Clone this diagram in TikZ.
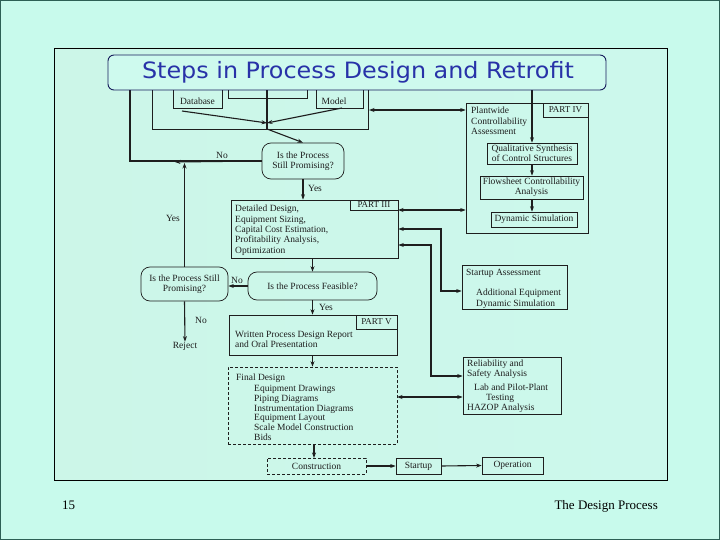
\documentclass[tikz,border=0pt]{standalone}
\usepackage{fontspec}
\setmainfont{Liberation Serif}
\newfontfamily\titlefont{DejaVu Sans}
\usetikzlibrary{arrows.meta,fit,calc}
\definecolor{bgc}{RGB}{200,250,236}
\definecolor{edgec}{RGB}{45,95,85}
\definecolor{scanl}{RGB}{204,246,232}
\definecolor{scanm}{RGB}{226,243,236}
\definecolor{scanr}{RGB}{204,248,236}
\definecolor{titleblue}{RGB}{40,50,168}
\definecolor{titlefill}{RGB}{206,250,238}
\definecolor{ink}{RGB}{30,30,30}
\begin{document}
\begin{tikzpicture}[x=1pt,y=-1pt,
  every node/.style={font=\fontsize{9.5}{10.4}\selectfont, text=ink, inner sep=0pt},
  box/.style={draw=ink, line width=0.7pt, inner sep=0pt},
  dbox/.style={box, dash pattern=on 3pt off 2pt},
  decis/.style={box, rounded corners=9pt},
  tagtext/.style={font=\fontsize{9}{10}\selectfont},
  ctr/.style={align=center},
  tx/.style={anchor=north west, align=left},
  ln/.style={draw=ink, line width=1.1pt},
  arr/.style={ln, -{Stealth[length=5.5pt,width=4pt]}},
  darr/.style={ln, {Stealth[length=5.5pt,width=4pt]}-{Stealth[length=5.5pt,width=4pt]}},
]
\useasboundingbox (0,0) rectangle (720,540);
\fill[bgc] (0,0) rectangle (720,540);
\draw[edgec, line width=1.2pt] (0.6,0.6) rectangle (719.4,539.4);
\shade[left color=scanl, middle color=scanm, right color=scanr] (54,48) rectangle (667,480);
\draw[black, line width=0.8pt] (54,48) rectangle (667,480);

% ---- top partial group
\node[box, fit={(152,70)(368,129)}] (grp) {};
\node[box, fit={(173,80)(222,108)}] (db) {};
\node (dbt) at (197.5,101) {Database};
\node[box, fit={(228,80)(307,98)}] (mid) {};
\node[box, fit={(316,80)(363,108)}] (mdl) {};
\node (mdlt) at (334,101) {Model};
\coordinate (j) at (267,123);
\coordinate (jb) at (267,129);
\coordinate (jt) at (267,70);
\coordinate (dbo) at (182,111);
\coordinate (mdo) at (342,108);
\draw[ln] (jt) -- (jb);
\draw[arr] (dbo) -- (j);
\draw[arr] (mdo) -- (j);

% ---- part IV
\node[box, fit={(466,103)(588,233)}] (p4) {};
\node[box, fit={(543,103)(588,117)}] (p4tag) {};
\node[tagtext] (p4tagt) at (p4tag.center) {PART IV};
\node[tx] (p4t) at (471,107) {Plantwide\\Controllability\\Assessment};
\node[box, fit={(487,143)(577,164)}] (qs) {};
\node[ctr] (qst) at (qs.center) {Qualitative Synthesis\\of Control Structures};
\node[box, fit={(480,176)(583,199)}] (fs) {};
\node[ctr] (fst) at (fs.center) {Flowsheet Controllability\\Analysis};
\node[box, fit={(491,212)(577,227)}] (ds) {};
\node (dst) at (ds.center) {Dynamic Simulation};
\coordinate (vt) at (532,70);
\draw[arr] (vt) -- (vt |- qs.north);
\draw[arr] (qs.south -| vt) -- (fs.north -| vt);
\draw[arr] (fs.south -| vt) -- (ds.north -| vt);
\coordinate (t1) at (369,110);
\draw[darr] (t1) -- (t1 -| p4.west);

% ---- decision 1
\node[decis, fit={(262,143)(344,179)}] (d1) {};
\node[ctr] (d1t) at (d1.center) {Is the Process\\Still Promising?};
\draw[arr] (jb) -- (d1.north);
\coordinate (lx) at (130,80);
\coordinate (na) at (175,162);
\draw[ln] (d1.west) -- (lx |- d1.west) -- (lx);
\draw[arr] (d1.west) -- (na);
\node (no1) at (222,155) {No};

% ---- detailed design
\node[box, fit={(231,200)(398,258)}] (dd) {};
\node[box, fit={(350,200)(398,210)}] (p3tag) {};
\node[tagtext] (p3tagt) at (p3tag.center) {PART III};
\node[tx] (ddt) at (235,205) {Detailed Design,\\Equipment Sizing,\\Capital Cost Estimation,\\Profitability Analysis,\\Optimization};
\draw[arr] (d1.south) -- (d1.south |- dd.north);
\node (yes1) at (315,188) {Yes};

% ---- feasible decision
\node[decis, fit={(248,272)(377,300)}] (fe) {};
\node (fet) at (fe.center) {Is the Process Feasible?};
\draw[arr] (dd.south -| fe.north) -- (fe.north);
\node[decis, fit={(141,267)(228,301)}] (d2) {};
\node[ctr] (d2t) at (d2.center) {Is the Process Still\\Promising?};
\draw[arr] (fe.west) -- (fe.west -| d2.east);
\node (no2) at (237,280) {No};
\coordinate (yj) at (185,163);
\draw[arr] (d2.north) -- (d2.north |- yj);
\node (yes2) at (173,218) {Yes};
\node (rej) at (185,346) {Reject};
\draw[arr] (d2.south) -- (rej.north);
\node (no3) at (201,320) {No};

% ---- written report
\node[box, fit={(229,315)(397,355)}] (wr) {};
\node[box, fit={(356,315)(397,329)}] (p5tag) {};
\node[tagtext] (p5tagt) at (p5tag.center) {PART V};
\node[tx] (wrt) at (235,331) {Written Process Design Report\\and Oral Presentation};
\draw[arr] (fe.south) -- (fe.south |- wr.north);
\node (yes3) at (326,307) {Yes};

% ---- final design
\node[dbox, fit={(228,367)(397,444)}] (fd) {};
\node[tx] (fdt) at (236,374) {Final Design};
\node[tx, font=\fontsize{9.5}{9.8}\selectfont] (fdi) at (254,385) {Equipment Drawings\\Piping Diagrams\\Instrumentation Diagrams\\Equipment Layout\\Scale Model Construction\\Bids};
\draw[arr] (wr.south -| fe.south) -- (fd.north -| fe.south);

% ---- bottom row
\node[dbox, fit={(267,458)(366,474)}] (cn) {};
\node (cnt) at (cn.center) {Construction};
\node[box, fit={(396,458)(441,474)}] (su) {};
\node (sut) at (su.center) {Startup};
\node[box, fit={(482,457)(543,474)}] (op) {};
\node (opt) at (op.center) {Operation};
\coordinate (cx) at (314,458);
\draw[arr] (fd.south -| cx) -- (cx);
\draw[arr] (cn.east) -- (su.west);
\draw[arr] (su.east) -- (op.west);

% ---- startup assessment
\node[box, fit={(462,265)(567,309)}] (sa) {};
\node[tx] (sat) at (466,269) {Startup Assessment};
\node[tx] (sai) at (476,289) {Additional Equipment\\Dynamic Simulation};

% ---- reliability
\node[box, fit={(463,357)(561,414)}] (rl) {};
\node[tx] (rlt) at (467,359.5) {Reliability and\\Safety Analysis};
\node[tx] (rl1) at (474,384) {Lab and Pilot-Plant};
\node[tx] (rl2) at (486,394) {Testing};
\node[tx] (rl3) at (467,404) {HAZOP Analysis};

% ---- side connectors
\coordinate (a1) at (398,210);
\draw[darr] (a1) -- (a1 -| p4.west);
\coordinate (a2) at (441,229);
\coordinate (a2b) at (441,291);
\draw[darr] (a2 -| dd.east) -- (a2) -- (a2b) -- (a2b -| sa.west);
\coordinate (a3) at (431,245);
\coordinate (a3b) at (431,376);
\draw[darr] (a3 -| dd.east) -- (a3) -- (a3b) -- (a3b -| rl.west);
\coordinate (a4) at (397,397);
\draw[darr] (a4) -- (a4 -| rl.west);

% ---- title (on top)
\node[draw=titleblue!55!black, line width=0.9pt, rounded corners=6pt, fill=titlefill, fit={(108,55)(606,90)}] (ttl) {};
\node[font=\titlefont\fontsize{22.5}{26}\selectfont, text=titleblue] (ttlt) at (358,72) {\scalebox{1.06}[1]{Steps in Process Design and Retrofit}};

% ---- footer
\node[font=\fontsize{13}{15}\selectfont, text=black, anchor=base west] (pg) at (62,509) {15};
\node[font=\fontsize{13}{15}\selectfont, text=black, anchor=base east] (ft) at (658,509) {The Design Process};
\end{tikzpicture}
\end{document}
